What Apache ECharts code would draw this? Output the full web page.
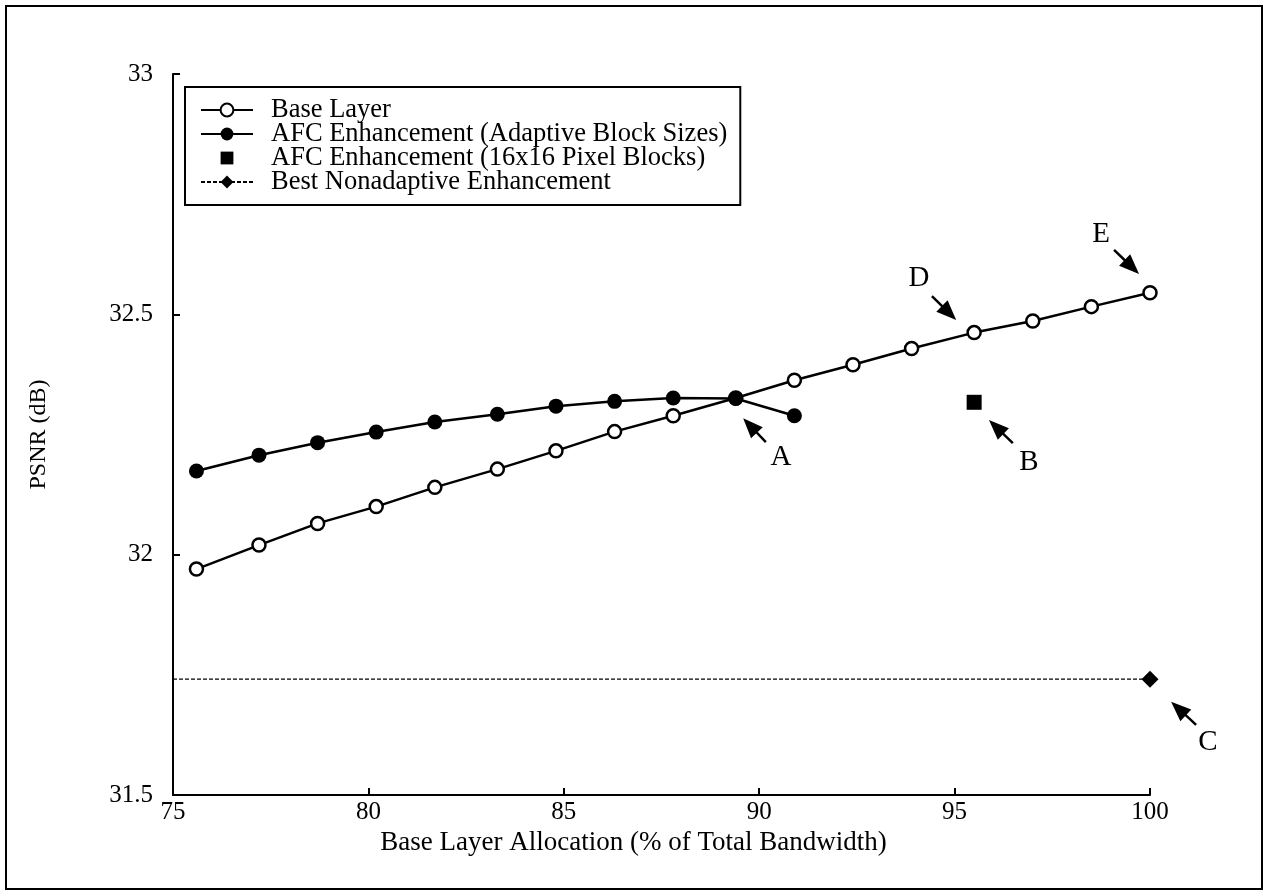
<!DOCTYPE html>
<html>
<head>
<meta charset="utf-8">
<script src="https://cdn.jsdelivr.net/npm/echarts@6/dist/echarts.min.js"></script>
<style>
  html, body { margin: 0; padding: 0; background: #fff; }
  #chart { width: 1268px; height: 895px; }
</style>
</head>
<body>
<div id="chart"></div>
<script>
// Base layer allocation (% of total bandwidth) for each operating point
const allocation = [75.6, 77.2, 78.7, 80.2, 81.7, 83.3, 84.8, 86.3, 87.8, 89.4, 90.9, 92.4, 93.9, 95.5, 97.0, 98.5, 100];

// PSNR (dB) of the base layer alone
const baseLayer = [31.970, 32.020, 32.065, 32.100, 32.140, 32.178, 32.216, 32.256, 32.289, 32.326, 32.363, 32.395, 32.429, 32.462, 32.486, 32.516, 32.545];

// PSNR (dB) with AFC enhancement, adaptive block sizes (first 11 allocations)
const afcAdaptive = [32.174, 32.207, 32.233, 32.255, 32.276, 32.292, 32.309, 32.319, 32.326, 32.325, 32.289];

// AFC enhancement with fixed 16x16 pixel blocks
const afc16Alloc = [95.5];
const afc16Psnr = [32.317];

// Best nonadaptive enhancement level
const nonadaptivePsnr = 31.741;
const nonadaptiveAlloc = [75, 100];

const seriesNames = [
  'Base Layer',
  'AFC Enhancement (Adaptive Block Sizes)',
  'AFC Enhancement (16x16 Pixel Blocks)',
  'Best Nonadaptive Enhancement'
];

// Callout letters and their arrows, in data coordinates
const calloutLetters = ['A', 'B', 'C', 'D', 'E'];
const letterPos = [[90.56, 32.203], [96.90, 32.193], [101.48, 31.610], [94.09, 32.574], [98.75, 32.667]];
const arrowTail = [[90.17, 32.234], [96.49, 32.232], [101.18, 31.646], [94.42, 32.538], [99.08, 32.634]];
const arrowHead = [[89.59, 32.284], [95.88, 32.280], [100.54, 31.694], [95.04, 32.488], [99.72, 32.584]];

const FONT = '"Liberation Serif", "DejaVu Serif", serif';

const chart = echarts.init(document.getElementById('chart'), null, { renderer: 'canvas' });

const option = {
  animation: false,
  backgroundColor: '#fff',
  textStyle: { fontFamily: FONT, color: '#000' },
  grid: { left: 173, right: 118, top: 74, bottom: 100, containLabel: false },
  legend: {
    orient: 'vertical',
    left: 185,
    top: 87,
    padding: [9.5, 13, 9.5, 15],
    itemWidth: 52,
    itemHeight: 16,
    itemGap: -3,
    borderColor: '#000',
    borderWidth: 2,
    backgroundColor: '#fff',
    textStyle: { fontFamily: FONT, fontSize: 26.5, color: '#000', padding: [0, 0, 0, 13] },
    data: seriesNames
  },
  xAxis: {
    type: 'value',
    min: 75,
    max: 100,
    interval: 5,
    name: 'Base Layer Allocation (% of Total Bandwidth)',
    nameLocation: 'middle',
    nameGap: 31,
    nameTextStyle: { fontFamily: FONT, fontSize: 27, color: '#000', padding: [0, 56, 0, 0] },
    axisLine: { lineStyle: { color: '#000', width: 2 } },
    axisTick: { inside: true, length: 7, lineStyle: { color: '#000', width: 2 } },
    axisLabel: { fontFamily: FONT, fontSize: 25, color: '#000', margin: 5 },
    splitLine: { show: false }
  },
  yAxis: {
    type: 'value',
    min: 31.5,
    max: 33,
    interval: 0.5,
    name: 'PSNR (dB)',
    nameLocation: 'middle',
    nameRotate: 90,
    nameGap: 122,
    nameTextStyle: { fontFamily: FONT, fontSize: 24, color: '#000' },
    axisLine: { lineStyle: { color: '#000', width: 2 } },
    axisTick: { inside: true, length: 7, lineStyle: { color: '#000', width: 2 } },
    axisLabel: { fontFamily: FONT, fontSize: 25, color: '#000', margin: 20 },
    splitLine: { show: false }
  },
  series: [
    {
      name: seriesNames[0],
      type: 'line',
      data: allocation.map((x, i) => [x, baseLayer[i]]),
      symbol: 'circle',
      symbolSize: 13,
      showAllSymbol: true,
      lineStyle: { color: '#000', width: 2.5 },
      itemStyle: { color: '#fff', borderColor: '#000', borderWidth: 2.5 },
      z: 2
    },
    {
      name: seriesNames[1],
      type: 'line',
      data: afcAdaptive.map((v, i) => [allocation[i], v]),
      symbol: 'circle',
      symbolSize: 15,
      showAllSymbol: true,
      lineStyle: { color: '#000', width: 2.5 },
      itemStyle: { color: '#000', borderColor: '#000', borderWidth: 0 },
      z: 3
    },
    {
      name: seriesNames[2],
      type: 'line',
      data: afc16Alloc.map((x, i) => [x, afc16Psnr[i]]),
      symbol: 'rect',
      symbolSize: 15,
      lineStyle: { color: '#000', width: 2.5, opacity: 0 },
      itemStyle: { color: '#000' },
      z: 3
    },
    {
      name: seriesNames[3],
      type: 'line',
      data: nonadaptiveAlloc.map((x, i) => ({
        value: [x, nonadaptivePsnr],
        symbol: i === nonadaptiveAlloc.length - 1 ? 'diamond' : 'none'
      })),
      symbol: 'diamond',
      symbolSize: 17,
      lineStyle: { color: '#000', width: 1.2, type: [4, 2] },
      itemStyle: { color: '#000' },
      z: 3
    }
  ]
};

chart.setOption(option);

// Callout arrows and letters, placed through the grid's coordinate system
function buildCallouts() {
  const elements = [];
  // frame around the whole figure
  elements.push({
    type: 'rect',
    shape: { x: 6, y: 6, width: 1256, height: 883 },
    style: { fill: null, stroke: '#000', lineWidth: 2 },
    silent: true,
    z: 0
  });
  const headLen = 20, headHalf = 8;
  calloutLetters.forEach((letter, i) => {
    const t = chart.convertToPixel({ gridIndex: 0 }, arrowTail[i]);
    const h = chart.convertToPixel({ gridIndex: 0 }, arrowHead[i]);
    const dx = h[0] - t[0], dy = h[1] - t[1];
    const len = Math.sqrt(dx * dx + dy * dy);
    const ux = dx / len, uy = dy / len;
    const bx = h[0] - ux * headLen, by = h[1] - uy * headLen;
    elements.push({
      type: 'line',
      shape: { x1: t[0], y1: t[1], x2: bx + ux * 2, y2: by + uy * 2 },
      style: { stroke: '#000', lineWidth: 2.5 },
      silent: true,
      z: 10
    });
    elements.push({
      type: 'polygon',
      shape: { points: [[h[0], h[1]], [bx - uy * headHalf, by + ux * headHalf], [bx + uy * headHalf, by - ux * headHalf]] },
      style: { fill: '#000' },
      silent: true,
      z: 10
    });
    const p = chart.convertToPixel({ gridIndex: 0 }, letterPos[i]);
    elements.push({
      type: 'text',
      x: p[0],
      y: p[1],
      style: {
        text: letter,
        fontFamily: FONT,
        fontSize: 29,
        fill: '#000',
        align: 'center',
        verticalAlign: 'middle'
      },
      silent: true,
      z: 10
    });
  });
  chart.setOption({ graphic: { elements } });
}
buildCallouts();
</script>
</body>
</html>
